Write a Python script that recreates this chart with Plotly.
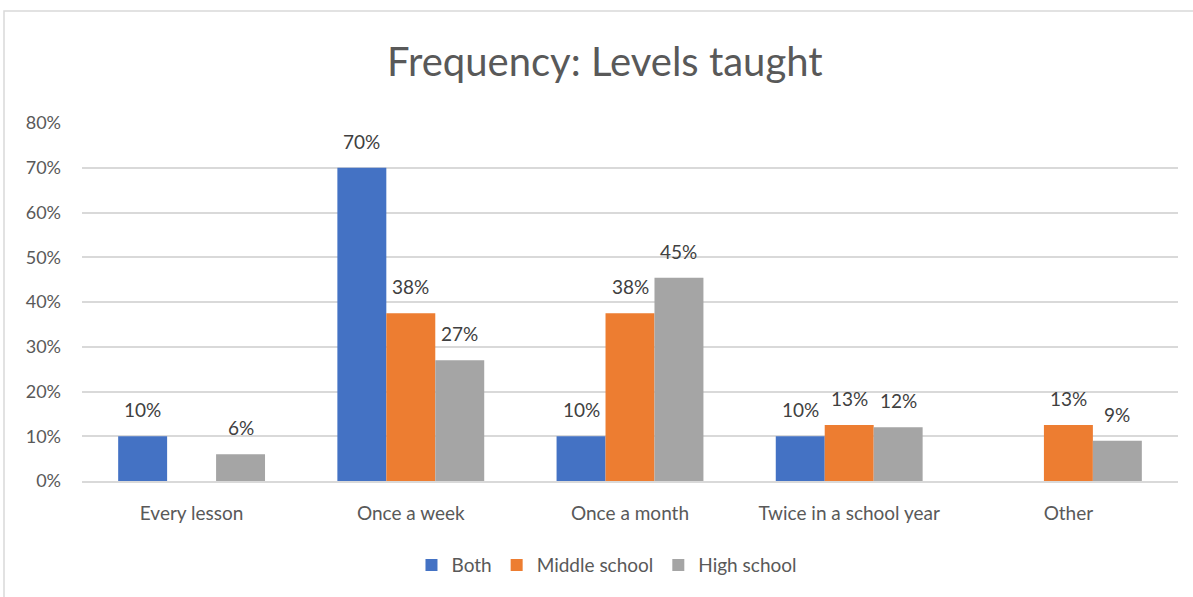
import plotly.graph_objects as go

# 数据
categories = ["Every lesson", "Once a week", "Once a month", "Twice in a school year", "Other"]
both = [0.10, 0.70, 0.10, 0.10, None]
middle_school = [None, 0.375, 0.375, 0.125, 0.125]
high_school = [0.06, 0.27, 0.454, 0.12, 0.09]
y_ticks = [0, 0.1, 0.2, 0.3, 0.4, 0.5, 0.6, 0.7, 0.8]

FONT = "Lato"
BARGAP = 0.33
series = [
    ("Both", both, "#4472C4"),
    ("Middle school", middle_school, "#ED7D31"),
    ("High school", high_school, "#A5A5A5"),
]


def pct(v):
    # Excel 式四舍五入
    return f"{int(v * 100 + 0.5)}%"


fig = go.Figure()
bar_w = (1 - BARGAP) / len(series)
for k, (name, values, color) in enumerate(series):
    fig.add_trace(
        go.Bar(
            x=categories,
            y=values,
            name=name,
            marker=dict(color=color, line=dict(width=0)),
        )
    )
    # 数据标签（比默认离柱顶更远）
    for i, v in enumerate(values):
        if v is None:
            continue
        fig.add_annotation(
            x=i + (k - (len(series) - 1) / 2) * bar_w,
            y=v,
            text=pct(v),
            showarrow=False,
            yanchor="bottom",
            yshift=13,
            font=dict(family=FONT, size=19, color="#404040"),
        )

fig.update_layout(
    width=1193,
    height=597,
    margin=dict(l=82, r=15, t=123, b=116),
    paper_bgcolor="white",
    plot_bgcolor="white",
    barmode="group",
    bargap=BARGAP,
    bargroupgap=0,
    title=dict(
        text="Frequency: Levels taught",
        x=0.507,
        xanchor="center",
        y=1 - 62 / 597,
        yanchor="middle",
        font=dict(family=FONT, size=40, color="#595959"),
    ),
    legend=dict(
        orientation="h",
        x=0.479,
        xanchor="center",
        y=-0.235,
        yanchor="middle",
        font=dict(family=FONT, size=19, color="#595959"),
        itemwidth=30,
    ),
    showlegend=True,
)

fig.update_xaxes(
    showgrid=False,
    showline=True,
    linecolor="#D9D9D9",
    linewidth=1.5,
    ticks="",
    ticklabelstandoff=14,
    tickfont=dict(family=FONT, size=19, color="#595959"),
)
fig.update_yaxes(
    range=[0, 0.8],
    tickvals=y_ticks,
    tickformat=".0%",
    showgrid=True,
    gridcolor="#D9D9D9",
    gridwidth=1.5,
    zeroline=False,
    showline=False,
    ticks="",
    ticklabelstandoff=20,
    tickfont=dict(family=FONT, size=18, color="#595959"),
)

# 外框
fig.add_shape(
    type="rect",
    xref="paper",
    yref="paper",
    x0=(4 - 82) / 1096,
    x1=1.2,
    y0=-0.6,
    y1=(481 - 11) / 358,
    line=dict(color="#D9D9D9", width=1.5),
    layer="below",
)

fig.write_html(
    "out.html",
    config={"displayModeBar": False},
    post_script="document.body.style.margin='0';",
)
